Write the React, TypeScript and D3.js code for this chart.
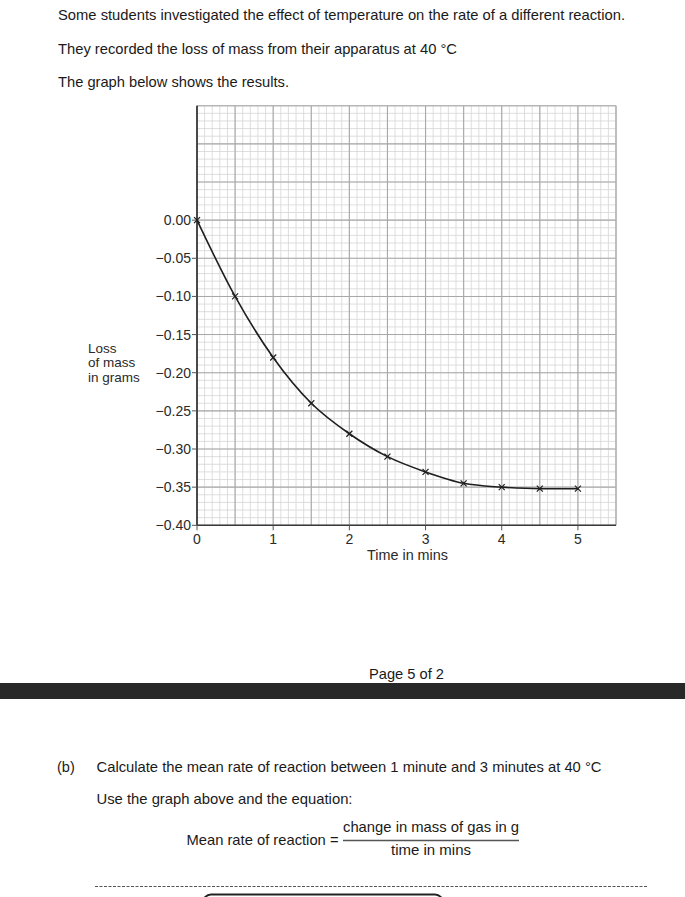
import React from "react";
import * as d3 from "d3";

const times = [0, 0.5, 1, 1.5, 2, 2.5, 3, 3.5, 4, 4.5, 5];
const massLoss = [0, -0.1, -0.18, -0.24, -0.28, -0.31, -0.33, -0.345, -0.35, -0.352, -0.352];
const xTicks = [0, 1, 2, 3, 4, 5];
const yTicks = [0, -0.05, -0.1, -0.15, -0.2, -0.25, -0.3, -0.35, -0.4];
const yLabelLines = ["Loss", "of mass", "in grams"];
const xLabel = "Time in mins";

const FONT = "'Liberation Sans', Arial, Helvetica, sans-serif";

export default function App() {
  const W = 685;
  const H = 897;
  const x = d3.scaleLinear().domain([0, 5.5]).range([197, 616]);
  const y = d3.scaleLinear().domain([0.15, -0.4]).range([105.7, 525.3]);
  const fmt = d3.format(".2f");

  const minorX = d3.range(0, 56).map((i) => i / 10);
  const minorY = d3.range(-40, 16).map((i) => i / 100);
  const majorX = d3.range(0, 12).map((i) => i / 2);
  const majorY = d3.range(-8, 4).map((i) => i / 20);

  const pts = times.map((t, i) => [x(t), y(massLoss[i])] as [number, number]);
  const line = d3.line().curve(d3.curveMonotoneX)(pts) || "";

  const [x0, x1] = x.range();
  const yTop = y(0.15);
  const yBot = y(-0.4);

  return (
    <svg
      width={W}
      height={H}
      viewBox={`0 0 ${W} ${H}`}
      style={{ position: "absolute", left: 0, top: 0, background: "#fff" }}
      fontFamily={FONT}
    >
      <rect x={0} y={0} width={W} height={H} fill="#fff" />
      {/* Top text */}
      <g fill="#1a1a1a" fontSize={14.5}>
        <text x={58} y={20} textLength={567} lengthAdjust="spacingAndGlyphs">
          Some students investigated the effect of temperature on the rate of a different reaction.
        </text>
        <text x={58} y={54} textLength={399} lengthAdjust="spacingAndGlyphs">
          They recorded the loss of mass from their apparatus at 40 °C
        </text>
        <text x={58} y={87} textLength={231} lengthAdjust="spacingAndGlyphs">
          The graph below shows the results.
        </text>
      </g>

      {/* Grid minor */}
      <g stroke="#d6d6d6" strokeWidth={0.8}>
        {minorX.map((v) => (
          <line key={"mx" + v} x1={x(v)} x2={x(v)} y1={yTop} y2={yBot} />
        ))}
        {minorY.map((v) => (
          <line key={"my" + v} x1={x0} x2={x1} y1={y(v)} y2={y(v)} />
        ))}
      </g>
      {/* Grid major */}
      <g stroke="#a8a8a8" strokeWidth={1.1}>
        {majorX.map((v) => (
          <line key={"Mx" + v} x1={x(v)} x2={x(v)} y1={yTop} y2={yBot} />
        ))}
        {majorY.map((v) => (
          <line key={"My" + v} x1={x0} x2={x1} y1={y(v)} y2={y(v)} />
        ))}
      </g>
      {/* Border top / right */}
      <g stroke="#b5b5b5" strokeWidth={1}>
        <line x1={x0} x2={x1} y1={yTop} y2={yTop} />
        <line x1={x1} x2={x1} y1={yTop} y2={yBot} />
      </g>
      {/* Axes */}
      <line x1={x0} x2={x0} y1={yTop} y2={yBot} stroke="#2a2a2a" strokeWidth={1.6} />
      <line x1={x0} x2={x1} y1={yBot} y2={yBot} stroke="#3a3a3a" strokeWidth={1.6} />

      {/* Y ticks */}
      <g fill="#2a2a2a" fontSize={14}>
        {yTicks.map((v) => (
          <g key={"yt" + v}>
            <line x1={x0 - 5} x2={x0} y1={y(v)} y2={y(v)} stroke="#555" strokeWidth={1} />
            <text x={x0 - 6} y={y(v) + 5} textAnchor="end">
              {fmt(v)}
            </text>
          </g>
        ))}
      </g>
      {/* X ticks */}
      <g fill="#2a2a2a" fontSize={14}>
        {xTicks.map((v) => (
          <g key={"xt" + v}>
            <line x1={x(v)} x2={x(v)} y1={yBot} y2={yBot + 5} stroke="#555" strokeWidth={1} />
            <text x={x(v)} y={yBot + 19} textAnchor="middle">
              {v}
            </text>
          </g>
        ))}
      </g>
      {/* Axis labels */}
      <text x={407.5} y={560} textAnchor="middle" fontSize={14} fill="#2a2a2a" textLength={81} lengthAdjust="spacingAndGlyphs">
        {xLabel}
      </text>
      <g fill="#2a2a2a" fontSize={13.5}>
        {yLabelLines.map((s, i) => (
          <text key={s} x={88} y={352.5 + i * 14.5}>
            {s}
          </text>
        ))}
      </g>

      {/* Curve */}
      <path d={line} fill="none" stroke="#1e1e1e" strokeWidth={1.6} />
      <g stroke="#1e1e1e" strokeWidth={1.2}>
        {pts.map(([px, py], i) => (
          <g key={"m" + i}>
            <line x1={px - 3} x2={px + 3} y1={py - 3} y2={py + 3} />
            <line x1={px - 3} x2={px + 3} y1={py + 3} y2={py - 3} />
          </g>
        ))}
      </g>

      {/* Footer */}
      <text x={369} y={679} fontSize={14.5} fill="#1a1a1a" textLength={75} lengthAdjust="spacingAndGlyphs">
        Page 5 of 2
      </text>
      <rect x={0} y={683} width={W} height={16} fill="#282828" />

      {/* Part (b) */}
      <g fill="#1a1a1a" fontSize={14.5}>
        <text x={57} y={772}>(b)</text>
        <text x={96.5} y={772} textLength={505} lengthAdjust="spacingAndGlyphs">
          Calculate the mean rate of reaction between 1 minute and 3 minutes at 40 °C
        </text>
        <text x={96.5} y={804} textLength={256} lengthAdjust="spacingAndGlyphs">
          Use the graph above and the equation:
        </text>
        <text x={186.5} y={845} textLength={152} lengthAdjust="spacingAndGlyphs">
          Mean rate of reaction =
        </text>
        <text x={343} y={832} textLength={176} lengthAdjust="spacingAndGlyphs">
          change in mass of gas in g
        </text>
        <text x={391} y={855} textLength={80} lengthAdjust="spacingAndGlyphs">
          time in mins
        </text>
      </g>
      <line x1={343} x2={519} y1={840.5} y2={840.5} stroke="#555" strokeWidth={1.5} />
      <line x1={95} x2={647} y1={886.5} y2={886.5} stroke="#555" strokeWidth={1} strokeDasharray="3 1.5" />
      <rect x={203} y={894.5} width={240} height={30} rx={8} fill="none" stroke="#222" strokeWidth={2} />
    </svg>
  );
}
